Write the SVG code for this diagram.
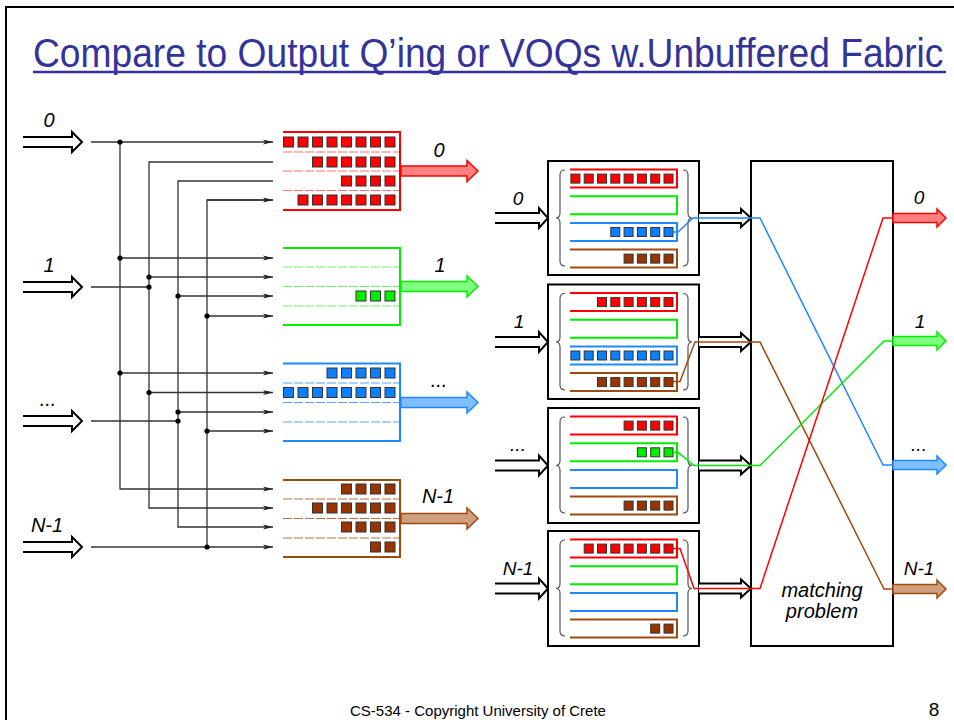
<svg xmlns="http://www.w3.org/2000/svg" width="954" height="720" viewBox="0 0 954 720">
  <defs>
    <marker id="ah" viewBox="0 0 10 6" refX="10" refY="3" markerWidth="10" markerHeight="6" markerUnits="userSpaceOnUse" orient="auto">
      <path d="M0,0.6 L10,3 L0,5.4 L2.5,3 Z" fill="#222"/>
    </marker>
    <style>
      .title { font-family: "Liberation Sans", Arial, sans-serif; font-size: 41px; fill: #333399; }
      .foot { font-family: "Liberation Sans", Arial, sans-serif; font-size: 15px; fill: #000; }
      .lbl { font-family: "Liberation Sans", Arial, sans-serif; font-style: italic; font-size: 20px; fill: #000; text-anchor: middle; }
      .lbs { font-family: "Liberation Sans", Arial, sans-serif; font-style: italic; font-size: 19px; fill: #000; text-anchor: middle; }
      .wire { stroke: #333; stroke-width: 1.3; fill: none; }
      .tap { stroke: #333; stroke-width: 1.3; fill: none; marker-end: url(#ah); }
      .dot { fill: #000; }
      .hollow { fill: #fff; stroke: #000; stroke-width: 2; stroke-linejoin: miter; }
      .box { fill: #fff; stroke: #000; stroke-width: 2; }
      .brace { fill: none; stroke: #555; stroke-width: 1.2; }
      .cR { fill: #ff0000; stroke: #333; stroke-width: 1; }
      .cG { fill: #00ee00; stroke: #333; stroke-width: 1; }
      .cB { fill: #0a80ff; stroke: #333; stroke-width: 1; }
      .cN { fill: #993300; stroke: #333; stroke-width: 1; }
      .qR { fill: none; stroke: #ff0000; stroke-width: 2; }
      .qG { fill: none; stroke: #00ee00; stroke-width: 2; }
      .qB { fill: none; stroke: #1e88ff; stroke-width: 2; }
      .qN { fill: none; stroke: #a04a10; stroke-width: 2; }
      .dR { stroke: #ff7070; stroke-width: 1; stroke-dasharray: 9 2; }
      .dG { stroke: #66f066; stroke-width: 1; stroke-dasharray: 9 2; }
      .dB { stroke: #55a5ff; stroke-width: 1; stroke-dasharray: 9 2; }
      .dN { stroke: #b8703f; stroke-width: 1; stroke-dasharray: 9 2; }
      .oR { fill: #ff8080; stroke: #ff0000; stroke-width: 1.5; }
      .oG { fill: #80ff80; stroke: #00ee00; stroke-width: 1.5; }
      .oB { fill: #80bfff; stroke: #1e88ff; stroke-width: 1.5; }
      .oN { fill: #cf9f80; stroke: #a04a10; stroke-width: 1.5; }
      .pR { fill: none; stroke: #ff0000; stroke-width: 1.5; }
      .pG { fill: none; stroke: #00ee00; stroke-width: 1.5; }
      .pB { fill: none; stroke: #1e88ff; stroke-width: 1.5; }
      .pN { fill: none; stroke: #a04a10; stroke-width: 1.5; }
    </style>
  </defs>

  <!-- slide frame -->
  <rect x="6" y="7" width="960" height="730" fill="#fff" stroke="#000" stroke-width="2"/>

  <!-- heading (condensed) -->
  <g id="title">
    <text class="title" transform="translate(33,67) scale(0.907,1)" x="0" y="0">Compare to Output Q’ing or VOQs w.Unbuffered Fabric</text>
    <line x1="33" y1="72" x2="946" y2="72" stroke="#333399" stroke-width="2.5"/>
  </g>

  <!-- ===== left: output queueing ===== -->
  <g id="in-left-0">
    <path class="hollow" d="M23,137 H72 V132 L82,142 L72,152 V147 H23"/>
    <text class="lbl" x="49" y="127">0</text>
  </g>
  <g id="in-left-1">
    <path class="hollow" d="M23,282 H72 V277 L82,287 L72,297 V292 H23"/>
    <text class="lbl" x="49" y="272">1</text>
  </g>
  <g id="in-left-2">
    <path class="hollow" d="M23,416 H72 V411 L82,421 L72,431 V426 H23"/>
    <text class="lbl" x="48" y="406">...</text>
  </g>
  <g id="in-left-3">
    <path class="hollow" d="M23,542 H72 V537 L82,547 L72,557 V552 H23"/>
    <text class="lbl" x="47" y="532">N-1</text>
  </g>

  <!-- broadcast wiring from inputs to output queues -->
  <g id="connectors-left">
    <!-- input 0 -->
    <line class="tap" x1="91" y1="142" x2="273" y2="142"/>
    <polyline class="tap" points="120,142 120,489 273,489"/>
    <line class="tap" x1="120" y1="258" x2="273" y2="258"/>
    <line class="tap" x1="120" y1="373" x2="273" y2="373"/>
    <!-- input 1 -->
    <line class="wire" x1="91" y1="287" x2="149" y2="287"/>
    <polyline class="tap" points="273,162 149,162 149,508 273,508"/>
    <line class="tap" x1="149" y1="277" x2="273" y2="277"/>
    <line class="tap" x1="149" y1="392.5" x2="273" y2="392.5"/>
    <!-- input ... -->
    <line class="wire" x1="91" y1="421" x2="178" y2="421"/>
    <polyline class="tap" points="273,181 178,181 178,527 273,527"/>
    <line class="tap" x1="178" y1="296" x2="273" y2="296"/>
    <line class="tap" x1="178" y1="412" x2="273" y2="412"/>
    <!-- input N-1 -->
    <line class="tap" x1="91" y1="547" x2="273" y2="547"/>
    <polyline class="wire" points="273,200 207,200 207,547"/>
    <line class="tap" x1="207" y1="200" x2="273" y2="200"/>
    <line class="tap" x1="207" y1="316" x2="273" y2="316"/>
    <line class="tap" x1="207" y1="431" x2="273" y2="431"/>
    <!-- junctions -->
    <circle class="dot" cx="120" cy="142" r="2.6"/>
    <circle class="dot" cx="120" cy="258" r="2.6"/>
    <circle class="dot" cx="120" cy="373" r="2.6"/>
    <circle class="dot" cx="149" cy="277" r="2.6"/>
    <circle class="dot" cx="149" cy="287" r="2.6"/>
    <circle class="dot" cx="149" cy="392.5" r="2.6"/>
    <circle class="dot" cx="178" cy="296" r="2.6"/>
    <circle class="dot" cx="178" cy="412" r="2.6"/>
    <circle class="dot" cx="178" cy="421" r="2.6"/>
    <circle class="dot" cx="207" cy="316" r="2.6"/>
    <circle class="dot" cx="207" cy="431" r="2.6"/>
    <circle class="dot" cx="207" cy="547" r="2.6"/>
  </g>

  <!-- output queue 0 -->
  <g id="oq-0">
    <line class="dR" x1="283" y1="152" x2="400" y2="152"/>
    <line class="dR" x1="283" y1="171" x2="400" y2="171"/>
    <line class="dR" x1="283" y1="190.5" x2="400" y2="190.5"/>
    <path class="qR" d="M283,132 H400 V210 H283"/>
    <rect class="cR" x="283.5" y="137" width="10" height="10"/><rect class="cR" x="298" y="137" width="10" height="10"/><rect class="cR" x="312.5" y="137" width="10" height="10"/><rect class="cR" x="327" y="137" width="10" height="10"/><rect class="cR" x="341.5" y="137" width="10" height="10"/><rect class="cR" x="356" y="137" width="10" height="10"/><rect class="cR" x="370.5" y="137" width="10" height="10"/><rect class="cR" x="385" y="137" width="10" height="10"/>
    <rect class="cR" x="312.5" y="157" width="10" height="10"/><rect class="cR" x="327" y="157" width="10" height="10"/><rect class="cR" x="341.5" y="157" width="10" height="10"/><rect class="cR" x="356" y="157" width="10" height="10"/><rect class="cR" x="370.5" y="157" width="10" height="10"/><rect class="cR" x="385" y="157" width="10" height="10"/>
    <rect class="cR" x="341.5" y="176" width="10" height="10"/><rect class="cR" x="356" y="176" width="10" height="10"/><rect class="cR" x="370.5" y="176" width="10" height="10"/><rect class="cR" x="385" y="176" width="10" height="10"/>
    <rect class="cR" x="298" y="195" width="10" height="10"/><rect class="cR" x="312.5" y="195" width="10" height="10"/><rect class="cR" x="327" y="195" width="10" height="10"/><rect class="cR" x="341.5" y="195" width="10" height="10"/><rect class="cR" x="356" y="195" width="10" height="10"/><rect class="cR" x="370.5" y="195" width="10" height="10"/><rect class="cR" x="385" y="195" width="10" height="10"/>
    <path class="oR" d="M401,166 H467 V160.5 L478,171 L467,181.5 V176 H401 Z"/>
    <text class="lbl" x="439" y="157">0</text>
  </g>

  <!-- output queue 1 -->
  <g id="oq-1">
    <line class="dG" x1="283" y1="267" x2="400" y2="267"/>
    <line class="dG" x1="283" y1="286.5" x2="400" y2="286.5"/>
    <line class="dG" x1="283" y1="306" x2="400" y2="306"/>
    <path class="qG" d="M283,248 H400 V325 H283"/>
    <rect class="cG" x="356" y="291" width="10" height="10"/><rect class="cG" x="370.5" y="291" width="10" height="10"/><rect class="cG" x="385" y="291" width="10" height="10"/>
    <path class="oG" d="M401,281.5 H467 V276 L478,286.5 L467,297 V291.5 H401 Z"/>
    <text class="lbl" x="440" y="272">1</text>
  </g>

  <!-- output queue ... -->
  <g id="oq-2">
    <line class="dB" x1="283" y1="383" x2="400" y2="383"/>
    <line class="dB" x1="283" y1="402.5" x2="400" y2="402.5"/>
    <line class="dB" x1="283" y1="422" x2="400" y2="422"/>
    <path class="qB" d="M283,363.5 H400 V441 H283"/>
    <rect class="cB" x="327" y="368" width="10" height="10"/><rect class="cB" x="341.5" y="368" width="10" height="10"/><rect class="cB" x="356" y="368" width="10" height="10"/><rect class="cB" x="370.5" y="368" width="10" height="10"/><rect class="cB" x="385" y="368" width="10" height="10"/>
    <rect class="cB" x="283.5" y="387.5" width="10" height="10"/><rect class="cB" x="298" y="387.5" width="10" height="10"/><rect class="cB" x="312.5" y="387.5" width="10" height="10"/><rect class="cB" x="327" y="387.5" width="10" height="10"/><rect class="cB" x="341.5" y="387.5" width="10" height="10"/><rect class="cB" x="356" y="387.5" width="10" height="10"/><rect class="cB" x="370.5" y="387.5" width="10" height="10"/><rect class="cB" x="385" y="387.5" width="10" height="10"/>
    <path class="oB" d="M401,397.5 H467 V392 L478,402.5 L467,413 V407.5 H401 Z"/>
    <text class="lbl" x="439" y="387">...</text>
  </g>

  <!-- output queue N-1 -->
  <g id="oq-3">
    <line class="dN" x1="283" y1="499" x2="400" y2="499"/>
    <line class="dN" x1="283" y1="518.5" x2="400" y2="518.5"/>
    <line class="dN" x1="283" y1="538" x2="400" y2="538"/>
    <path class="qN" d="M283,480 H400 V557 H283"/>
    <rect class="cN" x="341.5" y="484" width="10" height="10"/><rect class="cN" x="356" y="484" width="10" height="10"/><rect class="cN" x="370.5" y="484" width="10" height="10"/><rect class="cN" x="385" y="484" width="10" height="10"/>
    <rect class="cN" x="312.5" y="503" width="10" height="10"/><rect class="cN" x="327" y="503" width="10" height="10"/><rect class="cN" x="341.5" y="503" width="10" height="10"/><rect class="cN" x="356" y="503" width="10" height="10"/><rect class="cN" x="370.5" y="503" width="10" height="10"/><rect class="cN" x="385" y="503" width="10" height="10"/>
    <rect class="cN" x="341.5" y="522" width="10" height="10"/><rect class="cN" x="356" y="522" width="10" height="10"/><rect class="cN" x="370.5" y="522" width="10" height="10"/><rect class="cN" x="385" y="522" width="10" height="10"/>
    <rect class="cN" x="370.5" y="542" width="10" height="10"/><rect class="cN" x="385" y="542" width="10" height="10"/>
    <path class="oN" d="M401,513.5 H467 V508 L478,518.5 L467,529 V523.5 H401 Z"/>
    <text class="lbl" x="438" y="503">N-1</text>
  </g>

  <!-- ===== right: VOQs with unbuffered fabric ===== -->
  <g id="fabric">
    <rect class="box" x="751" y="161" width="142" height="485"/>
    <text class="lbl" x="822" y="597">matching</text>
    <text class="lbl" x="822" y="618">problem</text>
  </g>

  <!-- input port 0 -->
  <g id="voq-0">
    <path class="hollow" d="M495,213 H539 V208 L548,218 L539,228 V223 H495"/>
    <text class="lbs" x="518" y="205">0</text>
    <rect class="box" x="548" y="161" width="151" height="114"/>
    <path class="brace" d="M565,170 Q560,170 560,175 V213 Q560,218 556,218 Q560,218 560,223 V261 Q560,266 565,266"/>
    <path class="brace" d="M683,170 Q688,170 688,175 V213 Q688,218 692,218 Q688,218 688,223 V261 Q688,266 683,266"/>
    <path class="qR" d="M570,169.6 H677 V187.6 H570"/>
    <path class="qG" d="M570,196.3 H677 V214.3 H570"/>
    <path class="qB" d="M570,223 H677 V241 H570"/>
    <path class="qN" d="M570,249.6 H677 V267.6 H570"/>
    <rect class="cR" x="570.9" y="174.1" width="9" height="9"/><rect class="cR" x="584.2" y="174.1" width="9" height="9"/><rect class="cR" x="597.5" y="174.1" width="9" height="9"/><rect class="cR" x="610.8" y="174.1" width="9" height="9"/><rect class="cR" x="624.1" y="174.1" width="9" height="9"/><rect class="cR" x="637.4" y="174.1" width="9" height="9"/><rect class="cR" x="650.7" y="174.1" width="9" height="9"/><rect class="cR" x="664" y="174.1" width="9" height="9"/>
    <rect class="cB" x="610.8" y="227.5" width="9" height="9"/><rect class="cB" x="624.1" y="227.5" width="9" height="9"/><rect class="cB" x="637.4" y="227.5" width="9" height="9"/><rect class="cB" x="650.7" y="227.5" width="9" height="9"/><rect class="cB" x="664" y="227.5" width="9" height="9"/>
    <rect class="cN" x="624.1" y="254.1" width="9" height="9"/><rect class="cN" x="637.4" y="254.1" width="9" height="9"/><rect class="cN" x="650.7" y="254.1" width="9" height="9"/><rect class="cN" x="664" y="254.1" width="9" height="9"/>
  </g>

  <!-- input port 1 -->
  <g id="voq-1">
    <path class="hollow" d="M495,337 H539 V332 L548,342 L539,352 V347 H495"/>
    <text class="lbs" x="519" y="328">1</text>
    <rect class="box" x="548" y="284.5" width="151" height="114.5"/>
    <path class="brace" d="M565,293.5 Q560,293.5 560,298.5 V337 Q560,342 556,342 Q560,342 560,347 V385 Q560,390 565,390"/>
    <path class="brace" d="M683,293.5 Q688,293.5 688,298.5 V337 Q688,342 692,342 Q688,342 688,347 V385 Q688,390 683,390"/>
    <path class="qR" d="M570,293.1 H677 V311.1 H570"/>
    <path class="qG" d="M570,319.8 H677 V337.8 H570"/>
    <path class="qB" d="M570,346.5 H677 V364.5 H570"/>
    <path class="qN" d="M570,373.1 H677 V391.1 H570"/>
    <rect class="cR" x="597.5" y="297.6" width="9" height="9"/><rect class="cR" x="610.8" y="297.6" width="9" height="9"/><rect class="cR" x="624.1" y="297.6" width="9" height="9"/><rect class="cR" x="637.4" y="297.6" width="9" height="9"/><rect class="cR" x="650.7" y="297.6" width="9" height="9"/><rect class="cR" x="664" y="297.6" width="9" height="9"/>
    <rect class="cB" x="570.9" y="351" width="9" height="9"/><rect class="cB" x="584.2" y="351" width="9" height="9"/><rect class="cB" x="597.5" y="351" width="9" height="9"/><rect class="cB" x="610.8" y="351" width="9" height="9"/><rect class="cB" x="624.1" y="351" width="9" height="9"/><rect class="cB" x="637.4" y="351" width="9" height="9"/><rect class="cB" x="650.7" y="351" width="9" height="9"/><rect class="cB" x="664" y="351" width="9" height="9"/>
    <rect class="cN" x="597.5" y="377.6" width="9" height="9"/><rect class="cN" x="610.8" y="377.6" width="9" height="9"/><rect class="cN" x="624.1" y="377.6" width="9" height="9"/><rect class="cN" x="637.4" y="377.6" width="9" height="9"/><rect class="cN" x="650.7" y="377.6" width="9" height="9"/><rect class="cN" x="664" y="377.6" width="9" height="9"/>
  </g>

  <!-- input port ... -->
  <g id="voq-2">
    <path class="hollow" d="M495,460.5 H539 V455.5 L548,465.5 L539,475.5 V470.5 H495"/>
    <text class="lbs" x="518" y="451">...</text>
    <rect class="box" x="548" y="408" width="151" height="115"/>
    <path class="brace" d="M565,417 Q560,417 560,422 V460.5 Q560,465.5 556,465.5 Q560,465.5 560,470.5 V508 Q560,513 565,513"/>
    <path class="brace" d="M683,417 Q688,417 688,422 V460.5 Q688,465.5 692,465.5 Q688,465.5 688,470.5 V508 Q688,513 683,513"/>
    <path class="qR" d="M570,416.6 H677 V434.6 H570"/>
    <path class="qG" d="M570,443.3 H677 V461.3 H570"/>
    <path class="qB" d="M570,470 H677 V488 H570"/>
    <path class="qN" d="M570,496.6 H677 V514.6 H570"/>
    <rect class="cR" x="624.1" y="421.1" width="9" height="9"/><rect class="cR" x="637.4" y="421.1" width="9" height="9"/><rect class="cR" x="650.7" y="421.1" width="9" height="9"/><rect class="cR" x="664" y="421.1" width="9" height="9"/>
    <rect class="cG" x="637.4" y="447.8" width="9" height="9"/><rect class="cG" x="650.7" y="447.8" width="9" height="9"/><rect class="cG" x="664" y="447.8" width="9" height="9"/>
    <rect class="cN" x="624.1" y="501.1" width="9" height="9"/><rect class="cN" x="637.4" y="501.1" width="9" height="9"/><rect class="cN" x="650.7" y="501.1" width="9" height="9"/><rect class="cN" x="664" y="501.1" width="9" height="9"/>
  </g>

  <!-- input port N-1 -->
  <g id="voq-3">
    <path class="hollow" d="M495,583.5 H539 V578.5 L548,588.5 L539,598.5 V593.5 H495"/>
    <text class="lbs" x="518" y="575">N-1</text>
    <rect class="box" x="548" y="531" width="151" height="115"/>
    <path class="brace" d="M565,540 Q560,540 560,545 V583.5 Q560,588.5 556,588.5 Q560,588.5 560,593.5 V631 Q560,636 565,636"/>
    <path class="brace" d="M683,540 Q688,540 688,545 V583.5 Q688,588.5 692,588.5 Q688,588.5 688,593.5 V631 Q688,636 683,636"/>
    <path class="qR" d="M570,539.6 H677 V557.6 H570"/>
    <path class="qG" d="M570,566.3 H677 V584.3 H570"/>
    <path class="qB" d="M570,593 H677 V611 H570"/>
    <path class="qN" d="M570,619.6 H677 V637.6 H570"/>
    <rect class="cR" x="584.2" y="544.1" width="9" height="9"/><rect class="cR" x="597.5" y="544.1" width="9" height="9"/><rect class="cR" x="610.8" y="544.1" width="9" height="9"/><rect class="cR" x="624.1" y="544.1" width="9" height="9"/><rect class="cR" x="637.4" y="544.1" width="9" height="9"/><rect class="cR" x="650.7" y="544.1" width="9" height="9"/><rect class="cR" x="664" y="544.1" width="9" height="9"/>
    <rect class="cN" x="650.7" y="624.1" width="9" height="9"/><rect class="cN" x="664" y="624.1" width="9" height="9"/>
  </g>

  <!-- fabric outputs -->
  <g id="out-right-0">
    <path class="oR" d="M893,213.5 H937 V209 L946,218 L937,227 V222.5 H893 Z"/>
    <text class="lbs" x="919" y="204">0</text>
  </g>
  <g id="out-right-1">
    <path class="oG" d="M893,336.5 H937 V332 L946,341 L937,350 V345.5 H893 Z"/>
    <text class="lbs" x="920" y="328">1</text>
  </g>
  <g id="out-right-2">
    <path class="oB" d="M893,460.5 H937 V456 L946,465 L937,474 V469.5 H893 Z"/>
    <text class="lbs" x="919" y="451">...</text>
  </g>
  <g id="out-right-3">
    <path class="oN" d="M893,584.5 H937 V580 L946,589 L937,598 V593.5 H893 Z"/>
    <text class="lbs" x="919" y="575">N-1</text>
  </g>

  <!-- links from each input port into the fabric, and matched paths -->
  <g id="connectors-right">
    <path class="hollow" d="M699,213 H741 V209 L751,218 L741,227 V223 H699"/>
    <path class="hollow" d="M699,337 H741 V333 L751,342 L741,351 V347 H699"/>
    <path class="hollow" d="M699,460.5 H741 V456.5 L751,465.5 L741,474.5 V470.5 H699"/>
    <path class="hollow" d="M699,583.5 H741 V579.5 L751,588.5 L741,597.5 V593.5 H699"/>
    <path class="pB" d="M673,232 H678 L693,218 H760 L883,465 H893"/>
    <path class="pN" d="M673,381.5 H680 L695,342 H760 L884,589 H893"/>
    <path class="pG" d="M673,452.3 H678 L694,465.5 H760 L884,341 H893"/>
    <path class="pR" d="M673,548.6 H680 L694,588.5 H760 L883,218 H893"/>
  </g>

  <!-- footer -->
  <text class="foot" x="478" y="716" text-anchor="middle">CS-534 - Copyright University of Crete</text>
  <text class="foot" x="934" y="716" text-anchor="middle" style="font-size:19px">8</text>
</svg>
